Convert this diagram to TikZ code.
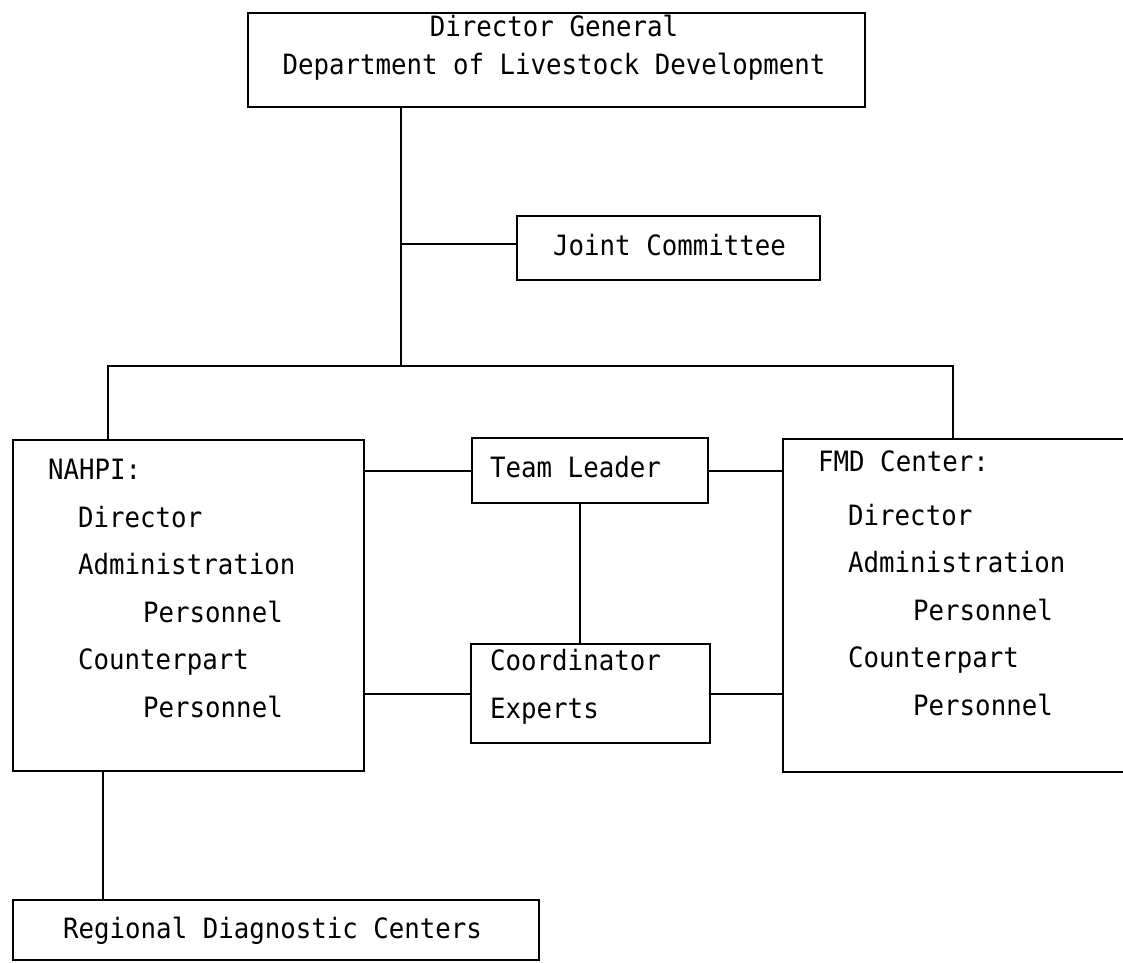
\documentclass[tikz,border=0pt]{standalone}
\usepackage{fontspec}
\setmonofont[FakeStretch=0.92]{DejaVu Sans Mono}
\begin{document}
\begin{tikzpicture}[x=1pt,y=-1pt,
  box/.style={draw, line width=2pt, inner sep=0pt, anchor=north west},
  txt/.style={inner sep=0pt, anchor=base west, font=\ttfamily\fontsize{28}{30}\selectfont},
  ctxt/.style={txt, anchor=base},
  conn/.style={line width=2pt}]
\useasboundingbox (0,0) rectangle (1123,962);
% boxes
\node[box, minimum width=617pt, minimum height=94pt] (top) at (247,12) {};
\node[box, minimum width=303pt, minimum height=64pt] (joint) at (516,215) {};
\node[box, minimum width=351pt, minimum height=331pt] (nahpi) at (12,439) {};
\node[box, minimum width=236pt, minimum height=65pt] (tl) at (471,437) {};
\node[box, minimum width=239pt, minimum height=99pt] (coord) at (470,643) {};
\node[box, minimum width=346pt, minimum height=333pt] (fmd) at (782,438) {};
\node[box, minimum width=526pt, minimum height=60pt] (reg) at (12,899) {};
% texts
\node[ctxt] (t1) at (554,36) {Director General};
\node[ctxt] (t2) at (554,74) {Department of Livestock Development};
\node[txt] (tj) at (553,255) {Joint Committee};
\node[txt] (n1) at (48,479) {NAHPI:};
\node[txt] (n2) at (78,527) {Director};
\node[txt] (n3) at (78,574) {Administration};
\node[txt] (n4) at (143,622) {Personnel};
\node[txt] (n5) at (78,669) {Counterpart};
\node[txt] (n6) at (143,717) {Personnel};
\node[txt] (f1) at (818,471) {FMD Center:};
\node[txt] (f2) at (848,525) {Director};
\node[txt] (f3) at (848,572) {Administration};
\node[txt] (f4) at (913,620) {Personnel};
\node[txt] (f5) at (848,667) {Counterpart};
\node[txt] (f6) at (913,715) {Personnel};
\node[txt] (ttl) at (490,477) {Team Leader};
\node[txt] (tc1) at (490,670) {Coordinator};
\node[txt] (tc2) at (490,718) {Experts};
\node[txt] (tr) at (63,938) {Regional Diagnostic Centers};
% connectors
\coordinate (j1) at (401,244);
\coordinate (bl) at (108,366);
\coordinate (bm) at (401,366);
\coordinate (br) at (953,366);
\coordinate (v1) at (580,560);
\coordinate (r1) at (103,830);
\draw[conn] (top.south -| j1) -- (bm);
\draw[conn] (j1) -- (j1 -| joint.west);
\draw[conn] (nahpi.north -| bl) -- (bl) -- (br) -- (br |- fmd.north);
\draw[conn] (tl.west) -- (tl.west -| nahpi.east);
\draw[conn] (tl.east) -- (tl.east -| fmd.west);
\draw[conn] (tl.south -| v1) -- (coord.north -| v1);
\draw[conn] (coord.west) -- (coord.west -| nahpi.east);
\draw[conn] (coord.east) -- (coord.east -| fmd.west);
\draw[conn] (nahpi.south -| r1) -- (reg.north -| r1);
\end{tikzpicture}
\end{document}
